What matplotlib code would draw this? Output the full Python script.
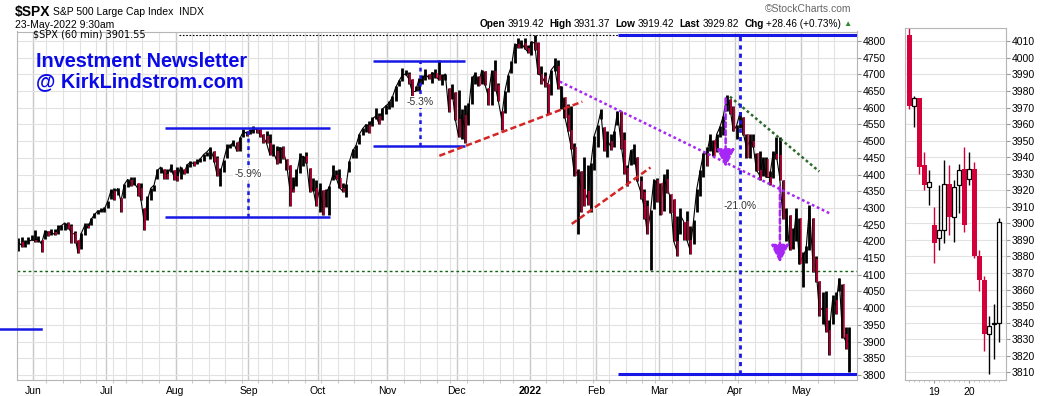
import matplotlib
matplotlib.use('Agg')
import matplotlib.pyplot as plt
import numpy as np
import pandas as pd

plt.rcParams['font.family'] = ['Liberation Sans', 'DejaVu Sans']

# ---- main panel: daily summary of the 60-min bars (close / high / low) ----
day_close = [
    4197, 4188, 4196, 4200, 4204,  # May 21
    4202, 4208, 4192, 4230, 4227, 4227, 4220, 4239, 4247, 4255, 4246, 4224, 4222, 4166, 4224, 4246, 4241, 4266, 4280, 4291, 4291, 4297,
    4320, 4352, 4344, 4358, 4320, 4370, 4385, 4369, 4374, 4360, 4327, 4259, 4323, 4359, 4368, 4412, 4422, 4401, 4400, 4419, 4395,
    4387, 4423, 4402, 4429, 4437, 4432, 4436, 4447, 4460, 4468, 4479, 4448, 4400, 4405, 4442, 4480, 4486, 4497, 4470, 4509, 4529, 4523,
    4524, 4537, 4535, 4520, 4514, 4493, 4459, 4469, 4443, 4481, 4474, 4433, 4358, 4354, 4396, 4449, 4455, 4444, 4353, 4360, 4308,
    4357, 4301, 4346, 4364, 4399, 4391, 4361, 4350, 4364, 4438, 4471, 4486, 4520, 4537, 4549, 4545, 4567, 4575, 4552, 4596, 4605,
    4614, 4631, 4660, 4680, 4697, 4701, 4686, 4647, 4649, 4683, 4683, 4701, 4689, 4705, 4698, 4683, 4691, 4701, 4595, 4655, 4567,
    4513, 4577, 4538, 4591, 4686, 4701, 4667, 4712, 4669, 4634, 4709, 4669, 4621, 4568, 4649, 4697, 4725, 4791, 4786, 4793, 4778, 4766,
    4797, 4793, 4701, 4696, 4677, 4670, 4713, 4726, 4659, 4663, 4577, 4533, 4483, 4398, 4410, 4356, 4350, 4327, 4432, 4516,
    4546, 4589, 4477, 4501, 4484, 4522, 4587, 4504, 4419, 4401, 4472, 4475, 4380, 4349, 4305, 4226, 4288, 4385, 4374,
    4306, 4387, 4363, 4329, 4201, 4171, 4278, 4260, 4204, 4173, 4262, 4358, 4412, 4463, 4461, 4512, 4456, 4520, 4543, 4575, 4632, 4602, 4530,
    4546, 4583, 4525, 4481, 4500, 4488, 4413, 4397, 4446, 4392, 4391, 4462, 4459, 4394, 4272, 4296, 4175, 4183, 4288, 4132,
    4155, 4175, 4300, 4147, 4123, 3991, 4001, 3935, 3930, 4024, 4008, 4088, 3923, 3901, 3901,
]
day_high = [
    4209, 4214, 4203, 4213, 4218,
    4234, 4216, 4204, 4233, 4232, 4237, 4237, 4249, 4249, 4255, 4257, 4252, 4232, 4204, 4226, 4256, 4256, 4271, 4286, 4295, 4301, 4302,
    4320, 4356, 4360, 4361, 4331, 4372, 4387, 4393, 4394, 4375, 4376, 4301, 4336, 4359, 4369, 4415, 4422, 4415, 4416, 4430, 4412,
    4422, 4423, 4415, 4430, 4441, 4439, 4445, 4449, 4461, 4468, 4481, 4470, 4454, 4418, 4444, 4490, 4492, 4502, 4496, 4513, 4537, 4531,
    4537, 4545, 4540, 4536, 4520, 4529, 4521, 4492, 4486, 4481, 4486, 4445, 4428, 4393, 4416, 4465, 4455, 4466, 4419, 4389, 4383,
    4375, 4355, 4356, 4365, 4429, 4412, 4416, 4375, 4372, 4440, 4475, 4487, 4520, 4539, 4551, 4559, 4572, 4598, 4585, 4598, 4608,
    4620, 4636, 4664, 4683, 4718, 4714, 4708, 4685, 4664, 4688, 4697, 4715, 4701, 4708, 4717, 4744, 4702, 4702, 4660, 4672, 4647,
    4652, 4595, 4608, 4613, 4695, 4706, 4695, 4713, 4711, 4660, 4712, 4743, 4673, 4591, 4651, 4698, 4740, 4791, 4808, 4804, 4809, 4787,
    4800, 4818, 4797, 4725, 4707, 4671, 4714, 4749, 4744, 4666, 4632, 4611, 4604, 4495, 4417, 4411, 4453, 4429, 4433, 4516,
    4547, 4596, 4542, 4530, 4522, 4531, 4590, 4589, 4527, 4427, 4473, 4490, 4451, 4395, 4356, 4323, 4295, 4385, 4390,
    4375, 4402, 4416, 4343, 4327, 4276, 4299, 4258, 4292, 4247, 4263, 4358, 4412, 4465, 4481, 4522, 4502, 4521, 4546, 4575, 4637, 4627, 4604,
    4549, 4587, 4572, 4521, 4521, 4521, 4465, 4471, 4453, 4453, 4410, 4471, 4512, 4512, 4385, 4299, 4278, 4240, 4300, 4269,
    4169, 4186, 4308, 4270, 4157, 4082, 4049, 4050, 3964, 4039, 4047, 4090, 4073, 3945, 3944,
]
day_low = [
    4170, 4182, 4184, 4193, 4203,
    4197, 4199, 4168, 4206, 4215, 4218, 4219, 4222, 4233, 4235, 4238, 4196, 4196, 4164, 4176, 4218, 4240, 4248, 4271, 4281, 4288, 4287,
    4300, 4326, 4323, 4340, 4289, 4329, 4364, 4366, 4369, 4337, 4323, 4233, 4265, 4324, 4351, 4387, 4405, 4386, 4387, 4407, 4385,
    4380, 4387, 4401, 4406, 4422, 4424, 4430, 4437, 4441, 4456, 4447, 4436, 4397, 4367, 4407, 4449, 4479, 4485, 4469, 4471, 4513, 4515,
    4522, 4525, 4525, 4513, 4495, 4493, 4459, 4455, 4430, 4435, 4447, 4413, 4305, 4347, 4367, 4406, 4424, 4435, 4347, 4350, 4307,
    4289, 4279, 4302, 4278, 4384, 4386, 4360, 4348, 4332, 4407, 4449, 4448, 4492, 4519, 4527, 4524, 4544, 4567, 4551, 4562, 4581,
    4595, 4603, 4620, 4664, 4681, 4698, 4671, 4630, 4650, 4651, 4672, 4683, 4685, 4673, 4690, 4682, 4669, 4684, 4586, 4626, 4564,
    4511, 4505, 4495, 4547, 4612, 4672, 4665, 4671, 4667, 4607, 4609, 4651, 4620, 4532, 4583, 4648, 4703, 4733, 4780, 4778, 4775, 4765,
    4758, 4774, 4700, 4671, 4663, 4582, 4637, 4709, 4656, 4597, 4568, 4531, 4477, 4395, 4222, 4287, 4305, 4309, 4287, 4414,
    4483, 4565, 4470, 4452, 4473, 4481, 4547, 4477, 4402, 4365, 4429, 4430, 4380, 4328, 4267, 4221, 4114, 4298, 4318,
    4279, 4291, 4345, 4284, 4201, 4157, 4223, 4205, 4203, 4161, 4192, 4288, 4336, 4394, 4425, 4470, 4455, 4466, 4511, 4517, 4589, 4581, 4530,
    4507, 4539, 4517, 4449, 4450, 4482, 4410, 4385, 4395, 4392, 4370, 4390, 4446, 4385, 4268, 4201, 4175, 4178, 4200, 4131,
    4063, 4134, 4175, 4107, 4077, 3976, 3954, 3928, 3859, 3952, 3983, 4052, 3912, 3877, 3810,
]
holidays = ['2021-05-31', '2021-07-05', '2021-09-06', '2021-11-25', '2021-12-24',
            '2022-01-17', '2022-02-21', '2022-04-15']
month_labels = ['Jun', 'Jul', 'Aug', 'Sep', 'Oct', 'Nov', 'Dec', '2022', 'Feb', 'Mar', 'Apr', 'May']

# ---- right panel: last 19 hourly candles (May 18 - May 20) ----
c_open = [4014, 3971, 3976, 3935, 3922, 3899, 3891, 3896, 3924, 3904, 3923, 3933, 3927, 3933, 3880, 3866, 3833, 3839, 3840]
c_high = [4018, 3977, 3976, 3943, 3932, 3910, 3923, 3938, 3935, 3926, 3936, 3946, 3943, 3937, 3884, 3868, 3844, 3851, 3903]
c_low = [3969, 3958, 3930, 3920, 3911, 3876, 3884, 3888, 3893, 3889, 3906, 3895, 3923, 3879, 3859, 3823, 3809, 3818, 3828]
c_close = [3971, 3976, 3934, 3923, 3925, 3888, 3896, 3924, 3904, 3922, 3932, 3899, 3933, 3880, 3866, 3833, 3838, 3840, 3901]
day_ticks = {5: '19', 12: '20'}

days = pd.bdate_range('2021-05-24', '2022-05-20')
days = days[~days.isin(pd.to_datetime(holidays))]
assert len(days) == len(day_close) == len(day_high) == len(day_low)

RED = '#d4003a'
BLUE = '#1818e6'
PURPLE = '#a526f5'
GRID = '#e2e2e2'

fig = plt.figure(figsize=(10.5, 3.96), dpi=100)
ax = fig.add_axes([16.7 / 1050, 16 / 396, 840 / 1050, 348.5 / 396])
ax2 = fig.add_axes([905 / 1050, 16 / 396, 101 / 1050, 352 / 396])

x = np.arange(len(days))
month_start = [i for i in range(1, len(days)) if days[i].month != days[i - 1].month]
week_start = [i for i in range(1, len(days)) if days[i].weekday() < days[i - 1].weekday()]

for i in week_start:
    ax.axvline(i, color=GRID, lw=0.8, zorder=0)
for i in month_start:
    ax.axvline(i, color='#c9c9c9', lw=1.0, zorder=0)
for p in range(3800, 4801, 50):
    ax.axhline(p, color=GRID, lw=0.8, zorder=0)

close = np.array(day_close)
high = np.array(day_high)
low = np.array(day_low)
prev = np.r_[close[0], close[:-1]]
down = close < prev
ax.plot(x + 0.5, close, color='black', lw=0.8, zorder=2)
ax.vlines(x + 0.5, low, high, color='black', lw=2.0, zorder=2)
ax.vlines(x[down] + 0.85, low[down], np.minimum(high[down], prev[down]), color=RED, lw=1.1, zorder=3)

# annotations
ax.hlines([4540, 4274], 44.8, 94.8, color=BLUE, lw=1.8, zorder=4)
ax.vlines(69.8, 4274, 4540, color=BLUE, lw=1.8, linestyles=(0, (1.5, 1.5)), zorder=4)
ax.text(69.8, 4402, '-5.9%', ha='center', va='center', fontsize=7.5, color='#333333',
        bbox=dict(facecolor='white', edgecolor='none', pad=0.5), zorder=5)
ax.hlines([4741, 4486], 107.6, 135.4, color=BLUE, lw=1.8, zorder=4)
ax.vlines(121.8, 4486, 4741, color=BLUE, lw=1.8, linestyles=(0, (1.5, 1.5)), zorder=4)
ax.text(121.8, 4617, '-5.3%', ha='center', va='center', fontsize=7.5, color='#333333',
        bbox=dict(facecolor='white', edgecolor='none', pad=0.5), zorder=5)

ax.plot([127.7, 170.9], [4456, 4618], color='#d42424', lw=1.8, dashes=(2.5, 1.3), zorder=4)
ax.plot([167.7, 191.5], [4252, 4421], color='#d42424', lw=1.8, dashes=(2.5, 1.3), zorder=4)
ax.plot([164.1, 246.2], [4678, 4281], color=PURPLE, lw=1.8, dashes=(1.1, 1.1), zorder=4)
ax.plot([215.5, 242.5], [4633, 4409], color='#2d6a2d', lw=1.8, dashes=(1.1, 1.1), zorder=4)
for ax_x, top, tip in [(214.2, 4628, 4422), (230.6, 4364, 4136)]:
    ax.annotate('', xy=(ax_x, tip), xytext=(ax_x, top),
                arrowprops=dict(arrowstyle='-|>,head_length=0.9,head_width=0.45', color=PURPLE, lw=1.8,
                                ls=(0, (2, 1.2)), mutation_scale=12, shrinkA=0, shrinkB=0), zorder=5)

ax.hlines([4819, 3803], 181.6, 253.8, color=BLUE, lw=2.2, zorder=4)
ax.vlines(218.5, 3803, 4819, color=BLUE, lw=2.0, linestyles=(0, (1.5, 1.5)), zorder=4)
ax.text(218.5, 4307, '-21.0%', ha='center', va='center', fontsize=7.5, color='#333333',
        bbox=dict(facecolor='white', edgecolor='none', pad=0.5), zorder=5)
ax.axhline(4112, color='#146414', lw=1.0, dashes=(2, 2), zorder=1)
ax.plot([-5.06, 7.3], [3937, 3937], color=BLUE, lw=1.8, clip_on=False, zorder=4)

# legend row at the top of the main panel
ax.text(16.3 / 840, 0.99, '$SPX (60 min) 3901.55', transform=ax.transAxes, va='center', ha='left',
        fontsize=7, family='DejaVu Sans')
ax.plot([162 / 840, 1], [0.99, 0.99], transform=ax.transAxes, color='black', lw=0.8, dashes=(1.5, 1.5),
        clip_on=False, zorder=1)
ax.text(19 / 840, 0.885, 'Investment Newsletter\n@ KirkLindstrom.com', transform=ax.transAxes, va='center',
        ha='left', fontsize=14.3, fontweight='bold', color='#0a0ae8', linespacing=1.05)

ax.set_xlim(0, 253.8)
ax.set_ylim(3785, 4828)
ax.yaxis.tick_right()
ax.set_yticks(range(3800, 4801, 50))
ax.set_xticks(month_start)
ax.set_xticklabels(month_labels)
for lbl in ax.get_xticklabels():
    if lbl.get_text() == '2022':
        lbl.set_fontweight('bold')
ax.set_xticks(week_start, minor=True)
ax.tick_params(axis='y', length=3, color='#999999', labelsize=7.5, pad=1)
ax.tick_params(axis='x', which='major', length=0, labelsize=7.5, pad=4)
ax.tick_params(axis='x', which='minor', length=2, color='#bbbbbb')
for s in ax.spines.values():
    s.set_color('#b5b5b5')

# ---- right panel ----
for p in range(3810, 4011, 10):
    ax2.axhline(p, color=GRID, lw=0.8, zorder=0)
for i in range(len(c_open)):
    o, h, l, c = c_open[i], c_high[i], c_low[i], c_close[i]
    if c < o:
        ax2.vlines(i, l, h, color=RED, lw=1.0, zorder=2)
        ax2.bar(i, o - c, bottom=c, width=0.95, color=RED, edgecolor='none', zorder=3)
    else:
        ax2.vlines(i, l, h, color='black', lw=1.0, zorder=2)
        ax2.bar(i, max(c - o, 0.8), bottom=o, width=0.8, color='white', edgecolor='black', lw=0.9, zorder=3)
ax2.set_xlim(-0.86, 19.34)
ax2.set_ylim(3805.3, 4018.1)
ax2.yaxis.tick_right()
ax2.set_yticks(range(3810, 4011, 10))
ax2.set_xticks(list(day_ticks))
ax2.set_xticklabels(list(day_ticks.values()))
ax2.set_xticks(range(len(c_open)), minor=True)
ax2.tick_params(axis='y', length=3, color='#999999', labelsize=7.5, pad=1)
ax2.tick_params(axis='x', which='major', length=2, color='#999999', labelsize=7.5, pad=3)
ax2.tick_params(axis='x', which='minor', length=1.5, color='#bbbbbb')
for s in ax2.spines.values():
    s.set_color('#b5b5b5')

# ---- header ----
fig.text(15 / 1050, 1 - 12 / 396, '$SPX', fontsize=10, fontweight='bold', va='center')
fig.text(53 / 1050, 1 - 12 / 396, 'S&P 500 Large Cap Index  INDX', fontsize=7.5, va='center')
fig.text(15 / 1050, 1 - 25 / 396, '23-May-2022 9:30am', fontsize=7.5, va='center')
fig.text(851 / 1050, 1 - 9 / 396, '\u00a9StockCharts.com', fontsize=7.5, va='center', ha='right', color='#666666')
pieces = [('\u25b2', 'normal', '#2e8b2e'), ('+28.46 (+0.73%)', 'normal', 'black'), ('Chg', 'bold', 'black'),
          ('3929.82', 'normal', 'black'), ('Last', 'bold', 'black'), ('3919.42', 'normal', 'black'),
          ('Low', 'bold', 'black'), ('3931.37', 'normal', 'black'), ('High', 'bold', 'black'),
          ('3919.42', 'normal', 'black'), ('Open', 'bold', 'black')]
t = fig.text(852 / 1050, 1 - 24 / 396, pieces[0][0], fontsize=6, color=pieces[0][2], ha='right', va='center')
for k, (s, w, col) in enumerate(pieces[1:]):
    gap = -1.8 if w == 'bold' else -3.8
    t = ax.annotate(s, xy=(0, 0.5), xycoords=t, xytext=(gap if k > 0 else -2, 0),
                    textcoords='offset points', ha='right', va='center', fontsize=7.2, fontweight=w,
                    color=col, annotation_clip=False)

fig.savefig('out.png', dpi=100)
